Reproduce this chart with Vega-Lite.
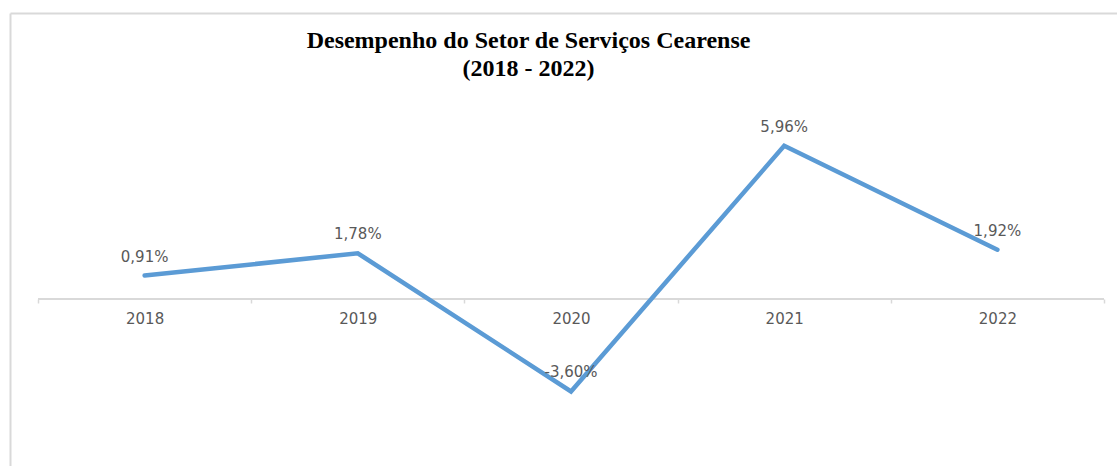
{
  "$schema": "https://vega.github.io/schema/vega-lite/v6.json",
  "width": 1107,
  "height": 453,
  "autosize": {"type": "none"},
  "padding": {"left": 10, "top": 13, "right": 0, "bottom": 0},
  "background": "white",
  "config": {
    "view": {"stroke": null},
    "locale": {"number": {"decimal": ",", "thousands": ".", "grouping": [3], "currency": ["R$", ""], "minus": "-"}}
  },
  "title": {
    "text": ["Desempenho do Setor de Serviços Cearense", "(2018 - 2022)"],
    "font": "Liberation Serif",
    "fontWeight": "bold",
    "fontSize": 24,
    "lineHeight": 28,
    "color": "#000000",
    "anchor": "middle",
    "offset": 0,
    "dx": -35,
    "dy": 68
  },
  "data": {
    "values": [
      {"ano": "2018", "taxa": 0.0091},
      {"ano": "2019", "taxa": 0.0178},
      {"ano": "2020", "taxa": -0.036},
      {"ano": "2021", "taxa": 0.0596},
      {"ano": "2022", "taxa": 0.0192}
    ]
  },
  "resolve": {"axis": {"x": "independent"}},
  "encoding": {
    "x": {
      "field": "ano",
      "type": "ordinal",
      "scale": {"paddingInner": 0, "paddingOuter": 0.0962, "align": 0.683}
    },
    "y": {
      "field": "taxa",
      "type": "quantitative",
      "scale": {"domain": [-0.065, 0.1113], "nice": false, "zero": false},
      "axis": {"orient": "left", "title": null, "labels": false, "ticks": false, "grid": false, "domain": true, "domainColor": "#d9d9d9", "domainWidth": 2}
    }
  },
  "layer": [
    {
      "mark": {"type": "rule", "color": "#d9d9d9", "strokeWidth": 1.5},
      "encoding": {
        "x": {"datum": "2018", "type": "ordinal", "bandPosition": 0, "axis": null},
        "x2": {"datum": "2022", "bandPosition": 1},
        "y": {"datum": 0, "type": "quantitative"}
      }
    },
    {
      "mark": {"type": "line", "color": "#5B9BD5", "strokeWidth": 4.5, "strokeJoin": "miter", "strokeCap": "round"},
      "encoding": {
        "x": {
          "field": "ano",
          "type": "ordinal",
          "axis": {
            "orient": "bottom",
            "offset": -167,
            "title": null,
            "domain": false,
            "ticks": true,
            "tickBand": "extent",
            "tickSize": 4,
            "tickColor": "#d9d9d9",
            "tickWidth": 1.5,
            "labelAngle": 0,
            "labelFont": "DejaVu Sans",
            "labelFontSize": 15,
            "labelColor": "#595959",
            "labelPadding": 8,
            "grid": false
          }
        }
      }
    },
    {
      "mark": {"type": "text", "font": "DejaVu Sans", "fontSize": 15, "color": "#595959", "dy": -19, "baseline": "middle"},
      "encoding": {
        "x": {
          "field": "ano",
          "type": "ordinal",
          "axis": {"orient": "top", "title": null, "labels": false, "ticks": false, "grid": false, "domain": true, "domainColor": "#d9d9d9", "domainWidth": 2}
        },
        "text": {"field": "taxa", "type": "quantitative", "format": ".2%"}
      }
    }
  ]
}
